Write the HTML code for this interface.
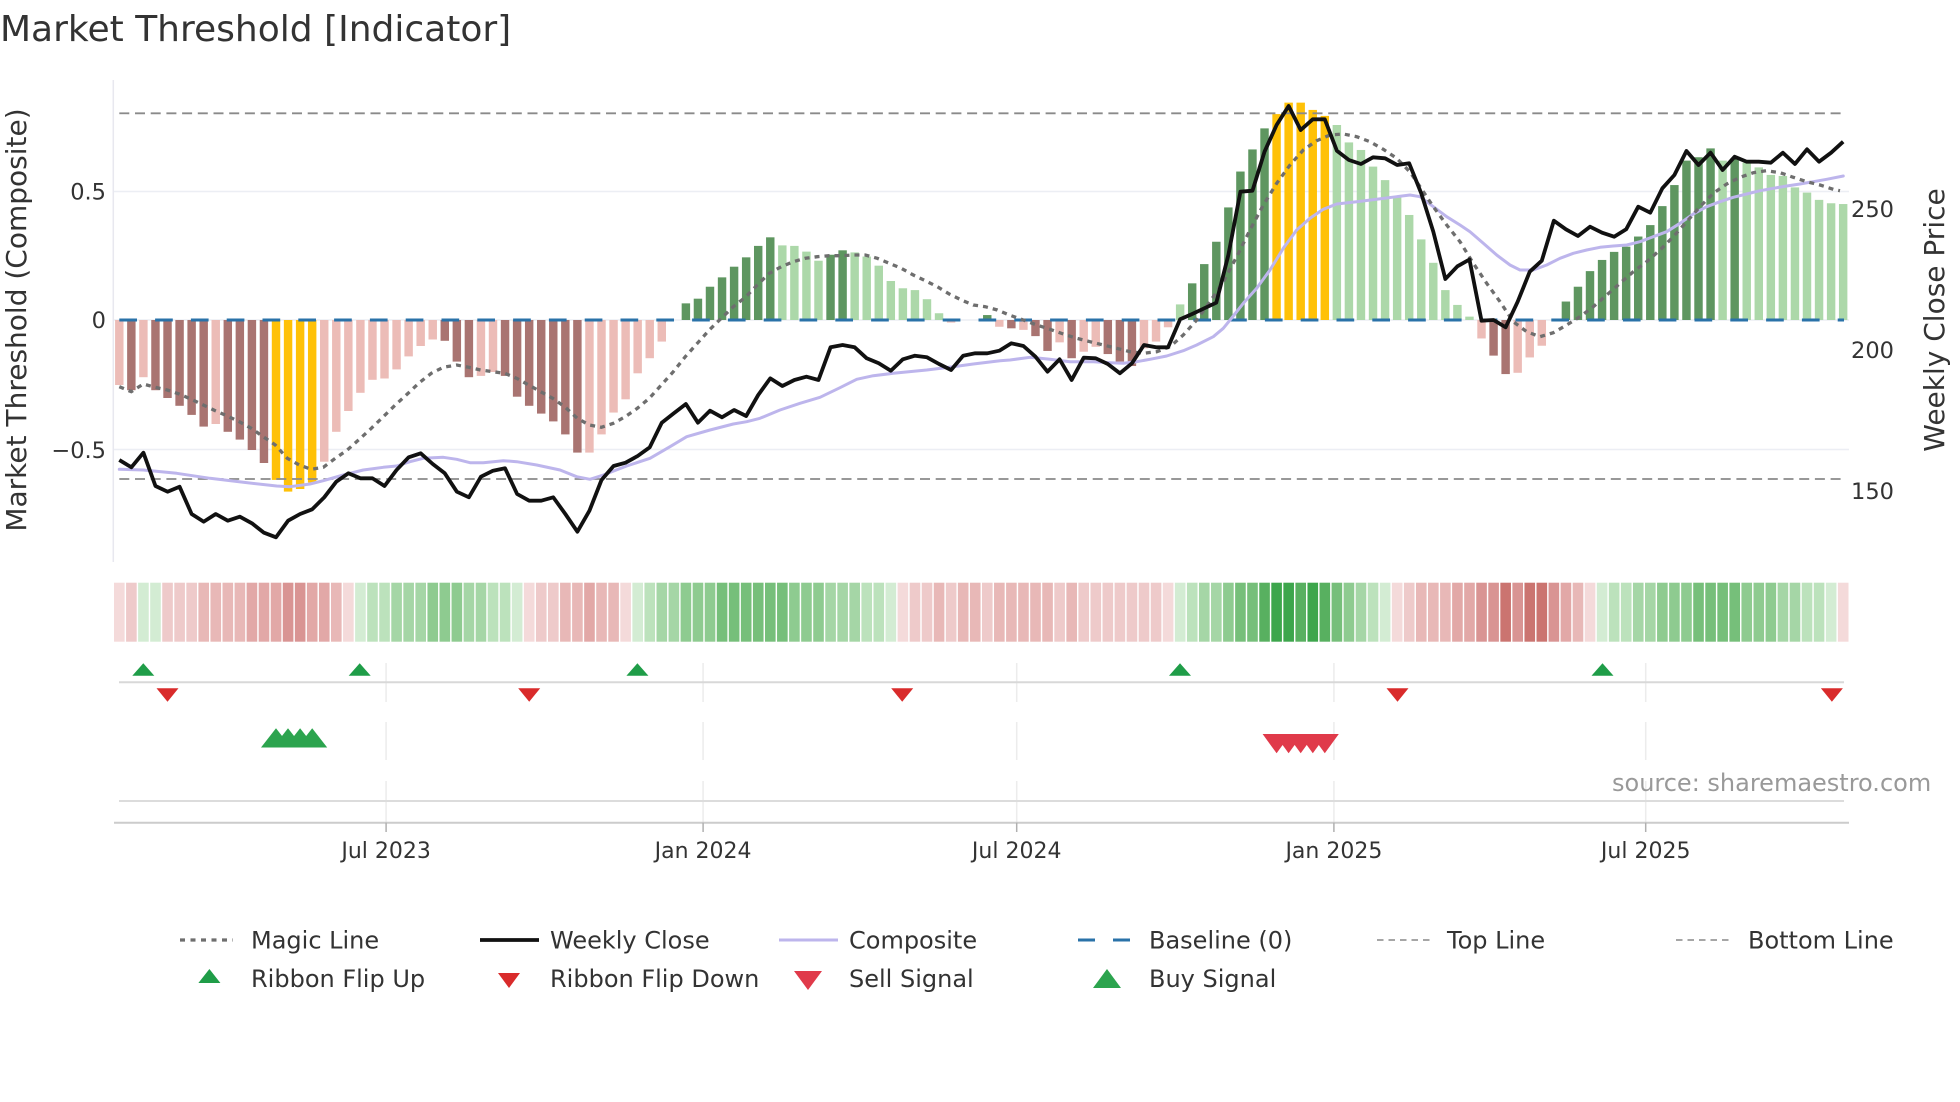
<!DOCTYPE html>
<html><head><meta charset="utf-8"><style>
html,body{margin:0;padding:0;background:#fff;}
svg{display:block;}
text{font-family:"DejaVu Sans","Liberation Sans",sans-serif;fill:#333;}
.dr{fill:#a97471}.lp{fill:#ecbcb7}.dg{fill:#5e9660}.lg{fill:#acd8a9}.yy{fill:#ffc107}
.p0{fill:#f4dada}.p1{fill:#eecaca}.p2{fill:#e8b8b7}.p3{fill:#e2a8a7}.p4{fill:#d99493}.p5{fill:#cb7470}
.g0{fill:#d3ecd3}.g1{fill:#bce2bc}.g2{fill:#a5d6a6}.g3{fill:#8ecb90}.g4{fill:#76bf7a}.g5{fill:#58b060}.g6{fill:#3da64c}
</style></head><body>
<svg width="1960" height="1102" viewBox="0 0 1960 1102" xmlns="http://www.w3.org/2000/svg">
<rect width="1960" height="1102" fill="#fff"/>
<text x="0" y="41" font-size="36">Market Threshold [Indicator]</text>

<!-- main axes -->
<line x1="113.3" y1="80" x2="113.3" y2="562" stroke="#e8e8ef" stroke-width="1.5"/>
<line x1="114" y1="191.5" x2="1849" y2="191.5" stroke="#eceef4" stroke-width="1.5"/>
<line x1="114" y1="449.5" x2="1849" y2="449.5" stroke="#eceef4" stroke-width="1.5"/>
<line x1="114" y1="320" x2="1849" y2="320" stroke="#eceef4" stroke-width="1.5"/>

<text x="106" y="199.5" font-size="22.5" text-anchor="end">0.5</text>
<text x="106" y="328" font-size="22.5" text-anchor="end">0</text>
<text x="106" y="458" font-size="22.5" text-anchor="end">−0.5</text>
<text x="1851" y="217" font-size="22.5">250</text>
<text x="1851" y="358" font-size="22.5">200</text>
<text x="1851" y="499" font-size="22.5">150</text>
<text transform="translate(26,320) rotate(-90)" font-size="28" text-anchor="middle">Market Threshold (Composite)</text>
<text transform="translate(1944,320) rotate(-90)" font-size="28" text-anchor="middle">Weekly Close Price</text>

<!-- bars -->
<g transform="translate(119.3,320) scale(12.055,-260)">
<rect class="lp" x="-0.35" y="-0.25" width="0.7" height="0.25"/>
<rect class="dr" x="0.65" y="-0.27" width="0.7" height="0.27"/>
<rect class="lp" x="1.65" y="-0.22" width="0.7" height="0.22"/>
<rect class="dr" x="2.65" y="-0.27" width="0.7" height="0.27"/>
<rect class="dr" x="3.65" y="-0.30" width="0.7" height="0.30"/>
<rect class="dr" x="4.65" y="-0.33" width="0.7" height="0.33"/>
<rect class="dr" x="5.65" y="-0.365" width="0.7" height="0.365"/>
<rect class="dr" x="6.65" y="-0.41" width="0.7" height="0.41"/>
<rect class="lp" x="7.65" y="-0.40" width="0.7" height="0.40"/>
<rect class="dr" x="8.65" y="-0.43" width="0.7" height="0.43"/>
<rect class="dr" x="9.65" y="-0.46" width="0.7" height="0.46"/>
<rect class="dr" x="10.65" y="-0.50" width="0.7" height="0.50"/>
<rect class="dr" x="11.65" y="-0.55" width="0.7" height="0.55"/>
<rect class="yy" x="12.65" y="-0.615" width="0.7" height="0.615"/>
<rect class="yy" x="13.65" y="-0.66" width="0.7" height="0.66"/>
<rect class="yy" x="14.65" y="-0.65" width="0.7" height="0.65"/>
<rect class="yy" x="15.65" y="-0.625" width="0.7" height="0.625"/>
<rect class="lp" x="16.65" y="-0.545" width="0.7" height="0.545"/>
<rect class="lp" x="17.65" y="-0.43" width="0.7" height="0.43"/>
<rect class="lp" x="18.65" y="-0.35" width="0.7" height="0.35"/>
<rect class="lp" x="19.65" y="-0.28" width="0.7" height="0.28"/>
<rect class="lp" x="20.65" y="-0.23" width="0.7" height="0.23"/>
<rect class="lp" x="21.65" y="-0.225" width="0.7" height="0.225"/>
<rect class="lp" x="22.65" y="-0.19" width="0.7" height="0.19"/>
<rect class="lp" x="23.65" y="-0.14" width="0.7" height="0.14"/>
<rect class="lp" x="24.65" y="-0.10" width="0.7" height="0.10"/>
<rect class="lp" x="25.65" y="-0.075" width="0.7" height="0.075"/>
<rect class="dr" x="26.65" y="-0.08" width="0.7" height="0.08"/>
<rect class="dr" x="27.65" y="-0.16" width="0.7" height="0.16"/>
<rect class="dr" x="28.65" y="-0.22" width="0.7" height="0.22"/>
<rect class="lp" x="29.65" y="-0.215" width="0.7" height="0.215"/>
<rect class="lp" x="30.65" y="-0.20" width="0.7" height="0.20"/>
<rect class="dr" x="31.65" y="-0.215" width="0.7" height="0.215"/>
<rect class="dr" x="32.65" y="-0.295" width="0.7" height="0.295"/>
<rect class="dr" x="33.65" y="-0.33" width="0.7" height="0.33"/>
<rect class="dr" x="34.65" y="-0.36" width="0.7" height="0.36"/>
<rect class="dr" x="35.65" y="-0.39" width="0.7" height="0.39"/>
<rect class="dr" x="36.65" y="-0.44" width="0.7" height="0.44"/>
<rect class="dr" x="37.65" y="-0.51" width="0.7" height="0.51"/>
<rect class="lp" x="38.65" y="-0.51" width="0.7" height="0.51"/>
<rect class="lp" x="39.65" y="-0.44" width="0.7" height="0.44"/>
<rect class="lp" x="40.65" y="-0.356" width="0.7" height="0.356"/>
<rect class="lp" x="41.65" y="-0.305" width="0.7" height="0.305"/>
<rect class="lp" x="42.65" y="-0.205" width="0.7" height="0.205"/>
<rect class="lp" x="43.65" y="-0.147" width="0.7" height="0.147"/>
<rect class="lp" x="44.65" y="-0.083" width="0.7" height="0.083"/>
<rect class="dg" x="46.65" y="0" width="0.7" height="0.064"/>
<rect class="dg" x="47.65" y="0" width="0.7" height="0.082"/>
<rect class="dg" x="48.65" y="0" width="0.7" height="0.128"/>
<rect class="dg" x="49.65" y="0" width="0.7" height="0.164"/>
<rect class="dg" x="50.65" y="0" width="0.7" height="0.205"/>
<rect class="dg" x="51.65" y="0" width="0.7" height="0.241"/>
<rect class="dg" x="52.65" y="0" width="0.7" height="0.285"/>
<rect class="dg" x="53.65" y="0" width="0.7" height="0.318"/>
<rect class="lg" x="54.65" y="0" width="0.7" height="0.287"/>
<rect class="lg" x="55.65" y="0" width="0.7" height="0.285"/>
<rect class="lg" x="56.65" y="0" width="0.7" height="0.263"/>
<rect class="lg" x="57.65" y="0" width="0.7" height="0.228"/>
<rect class="dg" x="58.65" y="0" width="0.7" height="0.251"/>
<rect class="dg" x="59.65" y="0" width="0.7" height="0.268"/>
<rect class="lg" x="60.65" y="0" width="0.7" height="0.26"/>
<rect class="lg" x="61.65" y="0" width="0.7" height="0.244"/>
<rect class="lg" x="62.65" y="0" width="0.7" height="0.209"/>
<rect class="lg" x="63.65" y="0" width="0.7" height="0.15"/>
<rect class="lg" x="64.65" y="0" width="0.7" height="0.122"/>
<rect class="lg" x="65.65" y="0" width="0.7" height="0.115"/>
<rect class="lg" x="66.65" y="0" width="0.7" height="0.08"/>
<rect class="lg" x="67.65" y="0" width="0.7" height="0.026"/>
<rect class="lp" x="68.65" y="-0.01" width="0.7" height="0.01"/>
<rect class="dg" x="71.65" y="0" width="0.7" height="0.019"/>
<rect class="lp" x="72.65" y="-0.026" width="0.7" height="0.026"/>
<rect class="dr" x="73.65" y="-0.032" width="0.7" height="0.032"/>
<rect class="lp" x="74.65" y="-0.038" width="0.7" height="0.038"/>
<rect class="dr" x="75.65" y="-0.062" width="0.7" height="0.062"/>
<rect class="dr" x="76.65" y="-0.119" width="0.7" height="0.119"/>
<rect class="lp" x="77.65" y="-0.086" width="0.7" height="0.086"/>
<rect class="dr" x="78.65" y="-0.147" width="0.7" height="0.147"/>
<rect class="lp" x="79.65" y="-0.122" width="0.7" height="0.122"/>
<rect class="lp" x="80.65" y="-0.103" width="0.7" height="0.103"/>
<rect class="dr" x="81.65" y="-0.131" width="0.7" height="0.131"/>
<rect class="dr" x="82.65" y="-0.160" width="0.7" height="0.160"/>
<rect class="dr" x="83.65" y="-0.177" width="0.7" height="0.177"/>
<rect class="lp" x="84.65" y="-0.109" width="0.7" height="0.109"/>
<rect class="lp" x="85.65" y="-0.083" width="0.7" height="0.083"/>
<rect class="lp" x="86.65" y="-0.028" width="0.7" height="0.028"/>
<rect class="lg" x="87.65" y="0" width="0.7" height="0.060"/>
<rect class="dg" x="88.65" y="0" width="0.7" height="0.141"/>
<rect class="dg" x="89.65" y="0" width="0.7" height="0.215"/>
<rect class="dg" x="90.65" y="0" width="0.7" height="0.301"/>
<rect class="dg" x="91.65" y="0" width="0.7" height="0.433"/>
<rect class="dg" x="92.65" y="0" width="0.7" height="0.571"/>
<rect class="dg" x="93.65" y="0" width="0.7" height="0.656"/>
<rect class="dg" x="94.65" y="0" width="0.7" height="0.737"/>
<rect class="yy" x="95.65" y="0" width="0.7" height="0.792"/>
<rect class="yy" x="96.65" y="0" width="0.7" height="0.836"/>
<rect class="yy" x="97.65" y="0" width="0.7" height="0.836"/>
<rect class="yy" x="98.65" y="0" width="0.7" height="0.808"/>
<rect class="yy" x="99.65" y="0" width="0.7" height="0.785"/>
<rect class="lg" x="100.65" y="0" width="0.7" height="0.75"/>
<rect class="lg" x="101.65" y="0" width="0.7" height="0.683"/>
<rect class="lg" x="102.65" y="0" width="0.7" height="0.654"/>
<rect class="lg" x="103.65" y="0" width="0.7" height="0.59"/>
<rect class="lg" x="104.65" y="0" width="0.7" height="0.538"/>
<rect class="lg" x="105.65" y="0" width="0.7" height="0.474"/>
<rect class="lg" x="106.65" y="0" width="0.7" height="0.404"/>
<rect class="lg" x="107.65" y="0" width="0.7" height="0.31"/>
<rect class="lg" x="108.65" y="0" width="0.7" height="0.22"/>
<rect class="lg" x="109.65" y="0" width="0.7" height="0.115"/>
<rect class="lg" x="110.65" y="0" width="0.7" height="0.058"/>
<rect class="lg" x="111.65" y="0" width="0.7" height="0.013"/>
<rect class="lp" x="112.65" y="-0.071" width="0.7" height="0.071"/>
<rect class="dr" x="113.65" y="-0.137" width="0.7" height="0.137"/>
<rect class="dr" x="114.65" y="-0.208" width="0.7" height="0.208"/>
<rect class="lp" x="115.65" y="-0.203" width="0.7" height="0.203"/>
<rect class="lp" x="116.65" y="-0.144" width="0.7" height="0.144"/>
<rect class="lp" x="117.65" y="-0.099" width="0.7" height="0.099"/>
<rect class="dg" x="119.65" y="0" width="0.7" height="0.071"/>
<rect class="dg" x="120.65" y="0" width="0.7" height="0.128"/>
<rect class="dg" x="121.65" y="0" width="0.7" height="0.188"/>
<rect class="dg" x="122.65" y="0" width="0.7" height="0.231"/>
<rect class="dg" x="123.65" y="0" width="0.7" height="0.262"/>
<rect class="dg" x="124.65" y="0" width="0.7" height="0.282"/>
<rect class="dg" x="125.65" y="0" width="0.7" height="0.321"/>
<rect class="dg" x="126.65" y="0" width="0.7" height="0.365"/>
<rect class="dg" x="127.65" y="0" width="0.7" height="0.438"/>
<rect class="dg" x="128.65" y="0" width="0.7" height="0.519"/>
<rect class="dg" x="129.65" y="0" width="0.7" height="0.613"/>
<rect class="dg" x="130.65" y="0" width="0.7" height="0.626"/>
<rect class="dg" x="131.65" y="0" width="0.7" height="0.66"/>
<rect class="lg" x="132.65" y="0" width="0.7" height="0.613"/>
<rect class="dg" x="133.65" y="0" width="0.7" height="0.622"/>
<rect class="lg" x="134.65" y="0" width="0.7" height="0.605"/>
<rect class="lg" x="135.65" y="0" width="0.7" height="0.587"/>
<rect class="lg" x="136.65" y="0" width="0.7" height="0.558"/>
<rect class="lg" x="137.65" y="0" width="0.7" height="0.554"/>
<rect class="lg" x="138.65" y="0" width="0.7" height="0.51"/>
<rect class="lg" x="139.65" y="0" width="0.7" height="0.49"/>
<rect class="lg" x="140.65" y="0" width="0.7" height="0.462"/>
<rect class="lg" x="141.65" y="0" width="0.7" height="0.449"/>
<rect class="lg" x="142.65" y="0" width="0.7" height="0.446"/>
</g>

<!-- top / bottom / baseline -->
<line x1="119.3" y1="113.3" x2="1844" y2="113.3" stroke="#8a8a8a" stroke-width="1.8" stroke-dasharray="10 5.7"/>
<line x1="119.3" y1="479" x2="1844" y2="479" stroke="#8a8a8a" stroke-width="1.8" stroke-dasharray="10 5.7"/>
<line x1="119.3" y1="320" x2="1844" y2="320" stroke="#2a72a8" stroke-width="3" stroke-dasharray="17.7 18.1"/>

<!-- composite -->
<polyline fill="none" stroke="#bdb5ec" stroke-width="3" stroke-linejoin="round" stroke-linecap="round" points="119.3,469.3 143.3,470 176.7,473.3 210,478.3 243.3,482.3 276.7,486 290,486.7 310,484 323.3,480.7 343.3,475 363.3,470 383.3,467.3 396.7,466 410,461.7 423.3,458.3 443.3,457.3 456.7,459.3 470,462.7 483.3,462.7 503.3,460.7 516.7,461.7 536.7,465 560,470 576.7,476.7 590,479.3 603.3,475 626.7,466 650,458.3 670,446.7 686.7,436.7 710,430 733.3,424 746.7,421.7 760,418.3 780,410 800,403.3 820,397.3 840,387.7 856.7,379.3 873.3,375.7 893.3,373.3 926.7,370 953.3,366.7 973.3,364 1000,360.7 1010,360 1030,357.3 1050,359.3 1070,361.7 1093.3,361.7 1110,362.7 1123.3,363.3 1136.7,361.7 1150,359.3 1166.7,356 1183.3,350.7 1196.7,345 1213.3,336.7 1223.3,328.3 1233.3,316 1243.3,303.3 1256.7,288.3 1270,270 1283.3,248.3 1296.7,230 1310,218.3 1323.3,209.3 1336.7,204 1356.7,201.7 1376.7,199.3 1396.7,196.7 1410,195 1420,196.7 1433.3,206.7 1446.7,216.7 1460,225 1470,231.7 1483.3,243.3 1496.7,255 1510,265 1520,270 1533.3,270 1546.7,265 1560,258.3 1573.3,253.3 1586.7,250 1600,247.3 1613.3,246 1626.7,245 1640,241.7 1653.3,236.7 1666.7,231.7 1680,223.3 1693.3,214 1706.7,206.7 1720,201.7 1733.3,197.3 1746.7,194 1760,190.7 1773.3,188.3 1786.7,186 1800,184 1813.3,181.7 1826.7,179.3 1843.3,176"/>

<!-- magic line -->
<polyline fill="none" stroke="#6e6e6e" stroke-width="3.3" stroke-dasharray="5 5" points="119.3,386.7 131.3,391.7 143.3,384 155.3,387.3 167.3,390 179.3,394 191.3,399.3 203.3,405 215.3,410.7 227.3,416 239.3,421.7 251.3,428.3 263.3,436.7 275.3,445 287.3,458.3 299.3,465 311.3,469.3 323.3,467.3 335.3,458.3 347.3,450 359.3,439.3 371.3,428.3 383.3,416.7 395.3,405 407.3,394 419.3,382.7 431.3,373.3 443.3,367.3 456.7,365 468.7,367.3 480.7,370 492.7,371.7 504.7,373.3 516.7,378.3 528.7,385 540.7,391.7 552.7,398.3 564.7,406.7 577.3,418.3 589.3,425 601.3,427.3 613.3,423.3 625.3,416.7 637.3,408.3 649.3,398.3 661.3,385 673.3,371.7 685.3,356.7 697.3,343.3 709.3,330 721.3,318.3 733.3,306.7 745.3,297.3 757.3,285 769.3,273.3 781.3,266.7 793.3,261.7 805.3,258.3 817.3,256.7 829.3,255.7 841.3,255.7 853.3,255 865.3,255 877.3,258.3 889.3,263.3 901.3,268.3 913.3,275 925.3,280.7 937.3,286.7 949.3,294 961.3,300 973.3,305 985.3,306.7 997.3,310 1009.3,315 1023.3,320 1036.7,325 1050,329.3 1063.3,334 1076.7,338.3 1090,341.7 1103.3,345 1116.7,348.3 1130,351.7 1143.3,353.3 1156.7,351.7 1170,346.7 1183.3,335 1196.7,320 1210,301.7 1223.3,281.7 1236.7,256.7 1250,230 1263.3,205 1276.7,183.3 1290,165 1303.3,150 1316.7,140.7 1330,135 1343.3,134 1356.7,136.7 1370,141.7 1383.3,149.3 1396.7,158.3 1410,172 1420,186.7 1433.3,206.7 1446.7,225 1460,241.7 1473.3,263.3 1486.7,283.3 1500,301.7 1513.3,321.7 1526.7,331.7 1540,336.7 1553.3,332.7 1566.7,325 1580,316.7 1593.3,306.7 1606.7,295 1620,283.3 1633.3,271.7 1646.7,261.7 1660,250 1673.3,236.7 1686.7,221.7 1700,206.7 1713.3,193.3 1726.7,184 1740,177.3 1753.3,172.7 1766.7,170.7 1780,172.7 1793.3,177.3 1806.7,181.7 1820,185 1833.3,189.3 1840,190.7"/>

<!-- weekly close -->
<g transform="translate(119.3,0) scale(12.055,1)">
<polyline fill="none" stroke="#111" stroke-width="3.8" stroke-linejoin="round" vector-effect="non-scaling-stroke" points="0,460 1,467.3 2,452.7 3,486 4,491.7 5,486.7 6,514 7,521.7 8,514 9,520.7 10,516.7 11,523.3 12,532.7 13,537.3 14,520.7 15,514 16,509.3 17,497.3 18,481.7 19,473.3 20,478.3 21,478.3 22,486 23,470 24,457.3 25,453.3 26,464 27,473.3 28,491.7 29,497.3 30,476.7 31,470.7 32,468.3 33,494 34,500.7 35,500.7 36,497.3 37,514 38,531.7 39,510.7 40,480 41,466 42,462.7 43,456 44,447.3 45,422.7 46,413.3 47,404 48,422.7 49,410.7 50,417.3 51,410 52,416 53,395 54,378.3 55,386 56,380 57,376.7 58,380 59,347.3 60,345 61,347.3 62,358.3 63,363.3 64,370.7 65,359.3 66,355.7 67,357.3 68,364 69,370 70,355.7 71,353.3 72,353.3 73,350.7 74,343.3 75,346 76,356.7 77,371.7 78,359.3 79,380 80,357.7 81,358.3 82,364 83,373.3 84,363.3 85,345 86,347.3 87,347.3 88,319.3 89,314 90,308.3 91,302.7 92,255 93,191.7 94,190.7 95,151.7 96,125 97,106 98,130 99,119.3 100,119.3 101,150.7 102,160 103,164 104,157.3 105,158.3 106,165 107,163.3 108,193.3 109,231.7 110,279 111,266.3 112,259.5 113,320.7 114,320 115,327.3 116,301.7 117,271.7 118,260.7 119,220.7 120,229.3 121,236 122,226.7 123,232.7 124,236.7 125,229.3 126,206.7 127,212.7 128,188.3 129,175 130,151 131,165 132,152.7 133,170 134,156.7 135,161.7 136,161.7 137,162.7 138,152.7 139,164 140,149.3 141,161.7 142,152.7 143,141.7"/>
</g>

<!-- ribbon -->
<g transform="translate(113.3,582.7) scale(12.055,1)">
<rect class="p0" x="0.06" width="0.88" height="59"/><rect class="p1" x="1.06" width="0.88" height="59"/><rect class="g0" x="2.06" width="0.88" height="59"/><rect class="g0" x="3.06" width="0.88" height="59"/>
<rect class="p1" x="4.06" width="0.88" height="59"/><rect class="p1" x="5.06" width="0.88" height="59"/><rect class="p1" x="6.06" width="0.88" height="59"/><rect class="p2" x="7.06" width="0.88" height="59"/>
<rect class="p2" x="8.06" width="0.88" height="59"/><rect class="p2" x="9.06" width="0.88" height="59"/><rect class="p2" x="10.06" width="0.88" height="59"/><rect class="p3" x="11.06" width="0.88" height="59"/>
<rect class="p3" x="12.06" width="0.88" height="59"/><rect class="p3" x="13.06" width="0.88" height="59"/><rect class="p4" x="14.06" width="0.88" height="59"/><rect class="p4" x="15.06" width="0.88" height="59"/>
<rect class="p3" x="16.06" width="0.88" height="59"/><rect class="p3" x="17.06" width="0.88" height="59"/><rect class="p2" x="18.06" width="0.88" height="59"/><rect class="p0" x="19.06" width="0.88" height="59"/>
<rect class="g0" x="20.06" width="0.88" height="59"/><rect class="g1" x="21.06" width="0.88" height="59"/><rect class="g1" x="22.06" width="0.88" height="59"/><rect class="g2" x="23.06" width="0.88" height="59"/>
<rect class="g2" x="24.06" width="0.88" height="59"/><rect class="g2" x="25.06" width="0.88" height="59"/><rect class="g3" x="26.06" width="0.88" height="59"/><rect class="g3" x="27.06" width="0.88" height="59"/>
<rect class="g3" x="28.06" width="0.88" height="59"/><rect class="g2" x="29.06" width="0.88" height="59"/><rect class="g2" x="30.06" width="0.88" height="59"/><rect class="g1" x="31.06" width="0.88" height="59"/>
<rect class="g1" x="32.06" width="0.88" height="59"/><rect class="g0" x="33.06" width="0.88" height="59"/>
<rect class="p0" x="34.06" width="0.88" height="59"/><rect class="p1" x="35.06" width="0.88" height="59"/><rect class="p1" x="36.06" width="0.88" height="59"/><rect class="p2" x="37.06" width="0.88" height="59"/>
<rect class="p2" x="38.06" width="0.88" height="59"/><rect class="p3" x="39.06" width="0.88" height="59"/><rect class="p2" x="40.06" width="0.88" height="59"/><rect class="p2" x="41.06" width="0.88" height="59"/>
<rect class="p0" x="42.06" width="0.88" height="59"/>
<rect class="g0" x="43.06" width="0.88" height="59"/><rect class="g1" x="44.06" width="0.88" height="59"/><rect class="g2" x="45.06" width="0.88" height="59"/><rect class="g2" x="46.06" width="0.88" height="59"/>
<rect class="g3" x="47.06" width="0.88" height="59"/><rect class="g3" x="48.06" width="0.88" height="59"/><rect class="g3" x="49.06" width="0.88" height="59"/><rect class="g4" x="50.06" width="0.88" height="59"/>
<rect class="g4" x="51.06" width="0.88" height="59"/><rect class="g4" x="52.06" width="0.88" height="59"/><rect class="g4" x="53.06" width="0.88" height="59"/><rect class="g4" x="54.06" width="0.88" height="59"/>
<rect class="g4" x="55.06" width="0.88" height="59"/><rect class="g3" x="56.06" width="0.88" height="59"/><rect class="g3" x="57.06" width="0.88" height="59"/><rect class="g3" x="58.06" width="0.88" height="59"/>
<rect class="g2" x="59.06" width="0.88" height="59"/><rect class="g2" x="60.06" width="0.88" height="59"/><rect class="g2" x="61.06" width="0.88" height="59"/><rect class="g1" x="62.06" width="0.88" height="59"/>
<rect class="g1" x="63.06" width="0.88" height="59"/><rect class="g0" x="64.06" width="0.88" height="59"/>
<rect class="p0" x="65.06" width="0.88" height="59"/><rect class="p1" x="66.06" width="0.88" height="59"/><rect class="p1" x="67.06" width="0.88" height="59"/><rect class="p2" x="68.06" width="0.88" height="59"/>
<rect class="p1" x="69.06" width="0.88" height="59"/><rect class="p2" x="70.06" width="0.88" height="59"/><rect class="p2" x="71.06" width="0.88" height="59"/><rect class="p1" x="72.06" width="0.88" height="59"/>
<rect class="p2" x="73.06" width="0.88" height="59"/><rect class="p2" x="74.06" width="0.88" height="59"/><rect class="p2" x="75.06" width="0.88" height="59"/><rect class="p2" x="76.06" width="0.88" height="59"/>
<rect class="p2" x="77.06" width="0.88" height="59"/><rect class="p1" x="78.06" width="0.88" height="59"/><rect class="p2" x="79.06" width="0.88" height="59"/><rect class="p1" x="80.06" width="0.88" height="59"/>
<rect class="p1" x="81.06" width="0.88" height="59"/><rect class="p1" x="82.06" width="0.88" height="59"/><rect class="p1" x="83.06" width="0.88" height="59"/><rect class="p1" x="84.06" width="0.88" height="59"/>
<rect class="p1" x="85.06" width="0.88" height="59"/><rect class="p1" x="86.06" width="0.88" height="59"/><rect class="p0" x="87.06" width="0.88" height="59"/>
<rect class="g0" x="88.06" width="0.88" height="59"/><rect class="g1" x="89.06" width="0.88" height="59"/><rect class="g2" x="90.06" width="0.88" height="59"/><rect class="g2" x="91.06" width="0.88" height="59"/>
<rect class="g3" x="92.06" width="0.88" height="59"/><rect class="g4" x="93.06" width="0.88" height="59"/><rect class="g4" x="94.06" width="0.88" height="59"/><rect class="g5" x="95.06" width="0.88" height="59"/>
<rect class="g6" x="96.06" width="0.88" height="59"/><rect class="g6" x="97.06" width="0.88" height="59"/><rect class="g5" x="98.06" width="0.88" height="59"/><rect class="g6" x="99.06" width="0.88" height="59"/>
<rect class="g5" x="100.06" width="0.88" height="59"/><rect class="g4" x="101.06" width="0.88" height="59"/><rect class="g3" x="102.06" width="0.88" height="59"/><rect class="g2" x="103.06" width="0.88" height="59"/>
<rect class="g1" x="104.06" width="0.88" height="59"/><rect class="g0" x="105.06" width="0.88" height="59"/>
<rect class="p0" x="106.06" width="0.88" height="59"/><rect class="p1" x="107.06" width="0.88" height="59"/><rect class="p2" x="108.06" width="0.88" height="59"/><rect class="p2" x="109.06" width="0.88" height="59"/>
<rect class="p2" x="110.06" width="0.88" height="59"/><rect class="p3" x="111.06" width="0.88" height="59"/><rect class="p3" x="112.06" width="0.88" height="59"/><rect class="p4" x="113.06" width="0.88" height="59"/>
<rect class="p4" x="114.06" width="0.88" height="59"/><rect class="p5" x="115.06" width="0.88" height="59"/><rect class="p4" x="116.06" width="0.88" height="59"/><rect class="p5" x="117.06" width="0.88" height="59"/>
<rect class="p5" x="118.06" width="0.88" height="59"/><rect class="p4" x="119.06" width="0.88" height="59"/><rect class="p3" x="120.06" width="0.88" height="59"/><rect class="p2" x="121.06" width="0.88" height="59"/>
<rect class="p0" x="122.06" width="0.88" height="59"/>
<rect class="g0" x="123.06" width="0.88" height="59"/><rect class="g1" x="124.06" width="0.88" height="59"/><rect class="g1" x="125.06" width="0.88" height="59"/><rect class="g2" x="126.06" width="0.88" height="59"/>
<rect class="g2" x="127.06" width="0.88" height="59"/><rect class="g3" x="128.06" width="0.88" height="59"/><rect class="g3" x="129.06" width="0.88" height="59"/><rect class="g3" x="130.06" width="0.88" height="59"/>
<rect class="g4" x="131.06" width="0.88" height="59"/><rect class="g4" x="132.06" width="0.88" height="59"/><rect class="g4" x="133.06" width="0.88" height="59"/><rect class="g4" x="134.06" width="0.88" height="59"/>
<rect class="g3" x="135.06" width="0.88" height="59"/><rect class="g3" x="136.06" width="0.88" height="59"/><rect class="g3" x="137.06" width="0.88" height="59"/><rect class="g2" x="138.06" width="0.88" height="59"/>
<rect class="g2" x="139.06" width="0.88" height="59"/><rect class="g1" x="140.06" width="0.88" height="59"/><rect class="g1" x="141.06" width="0.88" height="59"/><rect class="g0" x="142.06" width="0.88" height="59"/>
<rect class="p0" x="143.06" width="0.88" height="59"/>
</g>

<!-- signal panels -->
<g stroke="#ececec" stroke-width="1.5">
<line x1="386.1" y1="663" x2="386.1" y2="702"/><line x1="386.1" y1="722" x2="386.1" y2="760"/><line x1="386.1" y1="781" x2="386.1" y2="822"/>
<line x1="703.1" y1="663" x2="703.1" y2="702"/><line x1="703.1" y1="722" x2="703.1" y2="760"/><line x1="703.1" y1="781" x2="703.1" y2="822"/>
<line x1="1016.7" y1="663" x2="1016.7" y2="702"/><line x1="1016.7" y1="722" x2="1016.7" y2="760"/><line x1="1016.7" y1="781" x2="1016.7" y2="822"/>
<line x1="1333.9" y1="663" x2="1333.9" y2="702"/><line x1="1333.9" y1="722" x2="1333.9" y2="760"/><line x1="1333.9" y1="781" x2="1333.9" y2="822"/>
<line x1="1645.7" y1="663" x2="1645.7" y2="702"/><line x1="1645.7" y1="722" x2="1645.7" y2="760"/><line x1="1645.7" y1="781" x2="1645.7" y2="822"/>
</g>
<line x1="119" y1="682.3" x2="1844" y2="682.3" stroke="#d8d8d8" stroke-width="2"/>
<line x1="119" y1="801" x2="1844" y2="801" stroke="#dcdcdc" stroke-width="2"/>
<line x1="114" y1="822.7" x2="1849" y2="822.7" stroke="#cccccc" stroke-width="2"/>
<g stroke="#b0b0b0" stroke-width="1.5">
<line x1="386.1" y1="822.7" x2="386.1" y2="832"/><line x1="703.1" y1="822.7" x2="703.1" y2="832"/><line x1="1016.7" y1="822.7" x2="1016.7" y2="832"/><line x1="1333.9" y1="822.7" x2="1333.9" y2="832"/><line x1="1645.7" y1="822.7" x2="1645.7" y2="832"/>
</g>
<g font-size="22" text-anchor="middle">
<text x="386.1" y="858">Jul 2023</text><text x="703.1" y="858">Jan 2024</text><text x="1016.7" y="858">Jul 2024</text><text x="1333.9" y="858">Jan 2025</text><text x="1645.7" y="858">Jul 2025</text>
</g>

<!-- ribbon flips -->
<g fill="#1f9d48">
<polygon points="132.3,675.7 143.3,663.3 154.3,675.7"/>
<polygon points="348.7,675.7 359.7,663.3 370.7,675.7"/>
<polygon points="626.4,675.7 637.4,663.3 648.4,675.7"/>
<polygon points="1169,675.7 1180,663.3 1191,675.7"/>
<polygon points="1591.5,675.7 1602.5,663.3 1613.5,675.7"/>
</g>
<g fill="#d92b2b">
<polygon points="156.5,688.3 167.5,701.7 178.5,688.3"/>
<polygon points="518.2,688.3 529.2,701.7 540.2,688.3"/>
<polygon points="891.2,688.3 902.2,701.7 913.2,688.3"/>
<polygon points="1386.5,688.3 1397.5,701.7 1408.5,688.3"/>
<polygon points="1820.9,688.3 1831.9,701.7 1842.9,688.3"/>
</g>
<!-- buy / sell -->
<g fill="#2ca44e">
<polygon points="261,747.5 276,728.3 291,747.5"/>
<polygon points="273,747.5 288,728.3 303,747.5"/>
<polygon points="285.1,747.5 300.1,728.3 315.1,747.5"/>
<polygon points="297.2,747.5 312.2,728.3 327.2,747.5"/>
</g>
<g fill="#e03a4a">
<polygon points="1262.6,734 1276.6,753.3 1290.6,734"/>
<polygon points="1274.6,734 1288.6,753.3 1302.6,734"/>
<polygon points="1286.7,734 1300.7,753.3 1314.7,734"/>
<polygon points="1298.8,734 1312.8,753.3 1326.8,734"/>
<polygon points="1310.8,734 1324.8,753.3 1338.8,734"/>
</g>

<text x="1612" y="791" font-size="24" style="fill:#999">source: sharemaestro.com</text>

<!-- legend -->
<line x1="180" y1="940" x2="233" y2="940" stroke="#6e6e6e" stroke-width="3.3" stroke-dasharray="5 5.5"/>
<line x1="480" y1="940" x2="539" y2="940" stroke="#111" stroke-width="3.8"/>
<line x1="779" y1="940" x2="838" y2="940" stroke="#bdb5ec" stroke-width="3"/>
<line x1="1078" y1="940" x2="1131" y2="940" stroke="#2a72a8" stroke-width="3" stroke-dasharray="17 18"/>
<line x1="1377" y1="940" x2="1430" y2="940" stroke="#999" stroke-width="1.7" stroke-dasharray="6.5 5"/>
<line x1="1676" y1="940" x2="1730" y2="940" stroke="#999" stroke-width="1.7" stroke-dasharray="6.5 5"/>
<g font-size="24">
<text x="251" y="948.6">Magic Line</text>
<text x="550" y="948.6">Weekly Close</text>
<text x="849" y="948.6">Composite</text>
<text x="1149" y="948.6">Baseline (0)</text>
<text x="1447" y="948.6">Top Line</text>
<text x="1748" y="948.6">Bottom Line</text>
<text x="251" y="987">Ribbon Flip Up</text>
<text x="550" y="987">Ribbon Flip Down</text>
<text x="849" y="987">Sell Signal</text>
<text x="1149" y="987">Buy Signal</text>
</g>
<polygon points="198.4,983 209.4,969 220.4,983" fill="#1f9d48"/>
<polygon points="498,973 509,988 520,973" fill="#d92b2b"/>
<polygon points="794,971 808,990 822,971" fill="#e03a4a"/>
<polygon points="1093,988 1107,969 1121,988" fill="#2ca44e"/>
</svg>
</body></html>
